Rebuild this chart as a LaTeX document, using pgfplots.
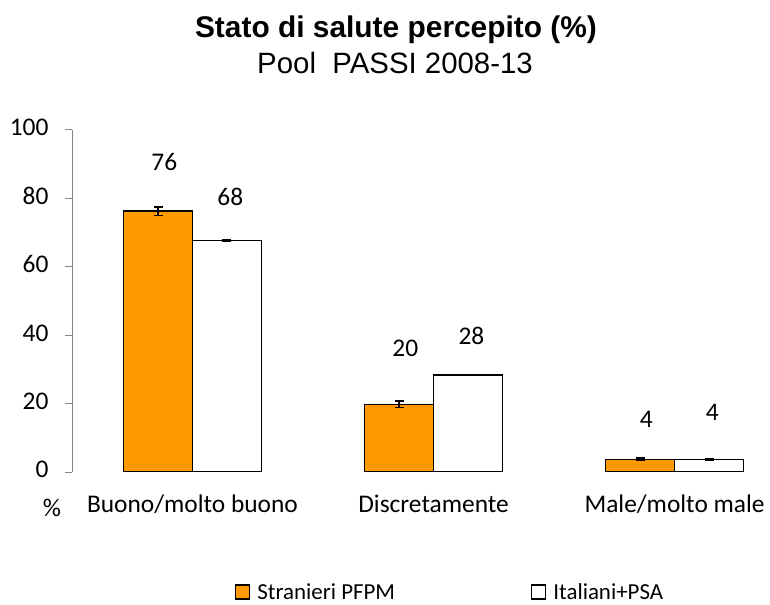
\documentclass[border=0pt]{standalone}
\usepackage{fontspec}
\setmainfont{Carlito}
\newfontfamily\arial{Liberation Sans}
\usepackage{pgfplots}
\pgfplotsset{compat=1.18}
\definecolor{arancio}{RGB}{255,153,0}
\definecolor{asse}{RGB}{134,134,134}

\begin{document}
\begin{tikzpicture}
\useasboundingbox (0,0) rectangle (770bp,605bp);
\node[font=\arial\bfseries\fontsize{30}{34}\selectfont] at (396bp,575bp) {Stato di salute percepito (\%)};
\node[font=\arial\fontsize{29.5}{34}\selectfont] at (395bp,542bp) {Pool\ \ PASSI 2008-13};
\begin{axis}[
  at={(72bp,133bp)}, anchor=south west,
  scale only axis, width=699bp, height=342bp,
  xmin=-0.5, xmax=2.4, ymin=0, ymax=100,
  axis y line=left, axis x line=bottom,
  axis line style={-},
  y axis line style={asse, line width=1bp},
  x axis line style={draw=none},
  ytick={0,20,...,100},
  xtick={0,1,2},
  xticklabels={Buono/molto buono, Discretamente, Male/molto male},
  major x tick style={draw=none},
  major y tick style={asse, line width=1bp},
  tick align=outside, major tick length=7bp,
  /pgf/number format/assume math mode=true,
  ticklabel style={font=\fontsize{25.5}{30}\selectfont, text=black},
  yticklabel style={xshift=-13bp},
  typeset ticklabels with strut,
  xticklabel shift=9bp,
  ybar=0pt, bar width=0.286,
  legend columns=2,
  legend style={draw=none, font=\fontsize{23}{27}\selectfont,
    at={(0.541,-0.351)}, anchor=center,
    /tikz/every odd column/.append style={column sep=5bp},
    /tikz/every even column/.append style={column sep=134bp}},
  legend image code/.code={\draw[#1,line width=1.3bp] (0bp,-7bp) rectangle (14bp,7bp);},
]
\addplot[fill=arancio, draw=black, line width=1.3bp,
  error bars/.cd, y dir=both, y explicit,
  error bar style={line width=1.3bp, black},
  error mark options={rotate=90, mark size=4.5bp, line width=1.3bp}]
  coordinates {(0,76.3) +- (0,1.2) (1,19.8) +- (0,1.0) (2,3.7) +- (0,0.4)};
\addplot[fill=white, draw=black, line width=1.3bp,
  error bars/.cd, y dir=both, y explicit,
  error bar style={line width=1.3bp, black},
  error mark options={rotate=90, mark size=4.5bp, line width=1.3bp}]
  coordinates {(0,67.7) +- (0,0.2) (1,28.4) +- (0,0.2) (2,3.7) +- (0,0.15)};
\legend{Stranieri PFPM, Italiani+PSA}
\begin{scope}[font=\fontsize{25.5}{30}\selectfont]
\node at (axis cs:-0.117,90.6) {76};
\node at (axis cs:0.157,80.4) {68};
\node at (axis cs:0.883,36.3) {20};
\node at (axis cs:1.157,39.8) {28};
\node at (axis cs:1.883,15.5) {4};
\node at (axis cs:2.157,17.3) {4};
\end{scope}
\end{axis}
\node[font=\fontsize{25.5}{30}\selectfont] at (52bp,97bp) {\%};
\end{tikzpicture}
\end{document}
